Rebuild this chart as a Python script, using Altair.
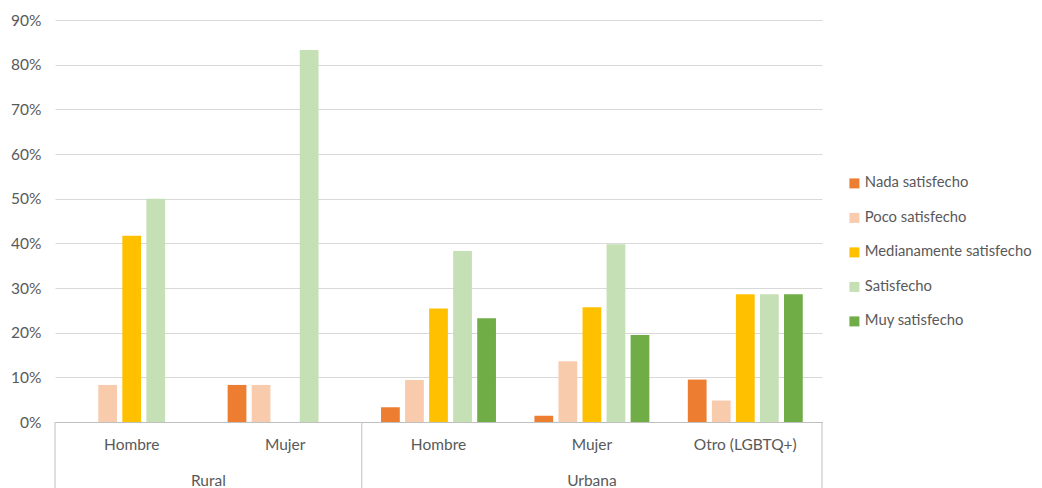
import altair as alt
import pandas as pd

zonas = ["Rural", "Rural", "Urbana", "Urbana", "Urbana"]
generos = ["Hombre", "Mujer", "Hombre", "Mujer", "Otro (LGBTQ+)"]
series = ["Nada satisfecho", "Poco satisfecho", "Medianamente satisfecho", "Satisfecho", "Muy satisfecho"]
colores = ["#ED7D31", "#F8CBAD", "#FFC000", "#C5E0B4", "#70AD47"]
nada = [0.0, 0.083, 0.033, 0.014, 0.095]
poco = [0.083, 0.083, 0.094, 0.136, 0.048]
mediana = [0.417, 0.0, 0.254, 0.257, 0.286]
satisf = [0.500, 0.833, 0.383, 0.398, 0.286]
muy = [0.0, 0.0, 0.232, 0.195, 0.286]
y_ticks = [0, 0.1, 0.2, 0.3, 0.4, 0.5, 0.6, 0.7, 0.8, 0.9]

valores = [nada, poco, mediana, satisf, muy]
keys = [z + "|" + g for z, g in zip(zonas, generos)]
rows = []
for s, vals in zip(series, valores):
    for k, v in zip(keys, vals):
        rows.append({"key": k, "serie": s, "valor": v})
df = pd.DataFrame(rows)

FONT = "Lato"
FS = 15.5
GREY_TXT = "#595959"
LINE = "#bfbfbf"

xscale = alt.Scale(domain=keys, paddingInner=0, paddingOuter=0)

bars = alt.Chart(df).mark_bar().encode(
    x=alt.X("key:N", sort=keys, scale=xscale,
            axis=alt.Axis(title=None, labelExpr="split(datum.label, '|')[1]",
                          ticks=False, domainColor=LINE, labelAngle=0, grid=False,
                          labelPadding=15, labelFontSize=FS, labelColor=GREY_TXT,
                          labelFont=FONT)),
    xOffset=alt.XOffset("serie:N", sort=series,
                        scale=alt.Scale(domain=series, paddingInner=0.22, paddingOuter=0.8)),
    y=alt.Y("valor:Q", scale=alt.Scale(domain=[0, 0.9], nice=False),
            axis=alt.Axis(title=None, values=y_ticks, format=".0%", domain=False,
                          ticks=False, gridColor="#d9d9d9", labelPadding=14,
                          labelFontSize=FS, labelColor=GREY_TXT, labelFont=FONT)),
    color=alt.Color("serie:N", sort=series,
                    scale=alt.Scale(domain=series, range=colores),
                    legend=alt.Legend(title=None, orient="none", legendX=792, legendY=156,
                                      symbolType="square", symbolSize=100, symbolStrokeWidth=0,
                                      labelFontSize=14.8, labelColor=GREY_TXT, labelFont=FONT,
                                      labelLimit=0, rowPadding=18.5, labelOffset=3, padding=0)),
)

# group separators and labels for the second axis level
group_names = []
for z in zonas:
    if z not in group_names:
        group_names.append(z)
starts = [keys[zonas.index(g)] for g in group_names]
last_key = keys[-1]

rule_start = alt.Chart(pd.DataFrame({"key": starts})).mark_rule(color=LINE, strokeWidth=1).encode(
    x=alt.X("key:N", sort=keys, bandPosition=0),
    y=alt.value(402), y2=alt.value(480))
rule_end = alt.Chart(pd.DataFrame({"key": [last_key]})).mark_rule(color=LINE, strokeWidth=1).encode(
    x=alt.X("key:N", sort=keys, bandPosition=1),
    y=alt.value(402), y2=alt.value(480))

layers = [bars, rule_start, rule_end]
for g in group_names:
    members = [k for k, z in zip(keys, zonas) if z == g]
    n = len(members)
    mid_idx = (n - 1) // 2
    bp = 1.0 if n % 2 == 0 else 0.5
    t = alt.Chart(pd.DataFrame({"key": [members[mid_idx]], "label": [g]})).mark_text(
        fontSize=FS, color=GREY_TXT, font=FONT, baseline="middle").encode(
        x=alt.X("key:N", sort=keys, bandPosition=bp),
        y=alt.value(461), text="label:N")
    layers.append(t)

chart = alt.layer(*layers).properties(
    width=767, height=402,
    padding={"left": 47, "top": 12, "right": 212, "bottom": 70},
    autosize=alt.AutoSizeParams(type="none"),
).configure(font=FONT).configure_view(stroke=None)

chart.save("out.html", embed_options={"renderer": "svg", "actions": False})
